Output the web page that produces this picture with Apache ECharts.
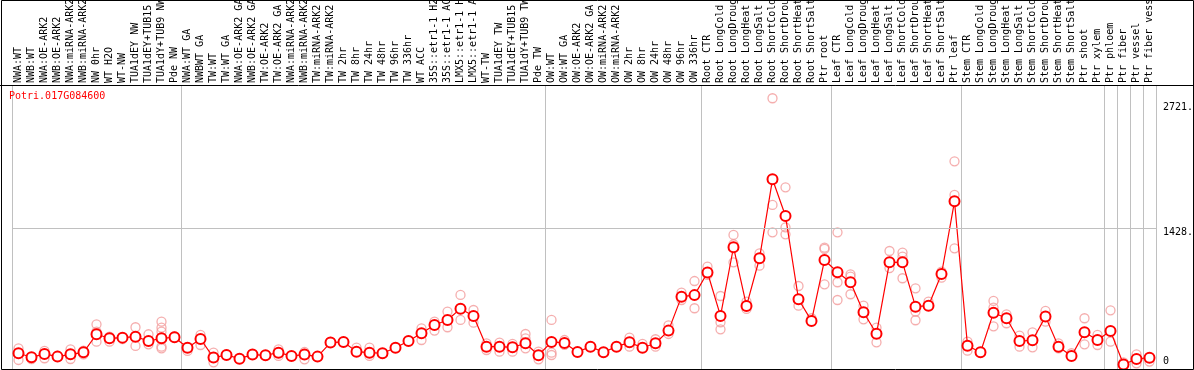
<!DOCTYPE html>
<html>
<head>
<meta charset="utf-8">
<script src="https://cdn.jsdelivr.net/npm/echarts@6/dist/echarts.min.js"></script>
<style>
html, body { margin: 0; padding: 0; background: #fff; }
#chart { width: 1194px; height: 370px; }
</style>
</head>
<body>
<div id="chart"></div>
<script>
const geneName = 'Potri.017G084600';

const categories = [
  'NWA:WT', 'NWB:WT', 'NWA:OE-ARK2', 'NWB:OE-ARK2', 'NWA:miRNA-ARK2', 'NWB:miRNA-ARK2',
  'NW 0hr', 'WT H2O', 'WT-NW', 'TUA1dEY NW', 'TUA1dEY+TUB15 NW', 'TUA1dY+TUB9 NW', 'Pde NW',
  'NWA:WT GA', 'NWBWT GA', 'TW:WT', 'TW:WT GA', 'NWA:OE-ARK2 GA', 'NWB:OE-ARK2 GA',
  'TW:OE-ARK2', 'TW:OE-ARK2 GA', 'NWA:miRNA-ARK2', 'NWB:miRNA-ARK2', 'TW:miRNA-ARK2', 'TW:miRNA-ARK2',
  'TW 2hr', 'TW 8hr', 'TW 24hr', 'TW 48hr', 'TW 96hr', 'TW 336hr', 'WT ACC',
  '35S::etr1-1 H2O', '35S::etr1-1 ACC', 'LMX5::etr1-1 H2O', 'LMX5::etr1-1 ACC',
  'WT-TW', 'TUA1dEY TW', 'TUA1dEY+TUB15 TW', 'TUA1dY+TUB9 TW', 'Pde TW',
  'OW:WT', 'OW:WT GA', 'OW:OE-ARK2', 'OW:OE-ARK2 GA', 'OW:miRNA-ARK2', 'OW:miRNA-ARK2',
  'OW 2hr', 'OW 8hr', 'OW 24hr', 'OW 48hr', 'OW 96hr', 'OW 336hr',
  'Root CTR', 'Root LongCold', 'Root LongDrought', 'Root LongHeat', 'Root LongSalt',
  'Root ShortCold', 'Root ShortDrought', 'Root ShortHeat', 'Root ShortSalt', 'Ptr root',
  'Leaf CTR', 'Leaf LongCold', 'Leaf LongDrought', 'Leaf LongHeat', 'Leaf LongSalt',
  'Leaf ShortCold', 'Leaf ShortDrought', 'Leaf ShortHeat', 'Leaf ShortSalt', 'Ptr leaf',
  'Stem CTR', 'Stem LongCold', 'Stem LongDrought', 'Stem LongHeat', 'Stem LongSalt',
  'Stem ShortCold', 'Stem ShortDrought', 'Stem ShortHeat', 'Stem ShortSalt', 'Ptr shoot',
  'Ptr xylem', 'Ptr phloem', 'Ptr fiber', 'Ptr vessel', 'Ptr fiber vessel'
];

// mean expression per sample
const meanValues = [
  122, 80, 115, 87, 111, 132, 320, 278, 285, 295, 250, 278, 289,
  180, 271, 77, 104, 66, 108, 101, 128, 94, 108, 87, 233, 240, 139, 128, 122, 180, 250,
  330, 417, 469, 587, 511, 191, 191, 184, 226, 101,
  240, 230, 135, 191, 132, 191, 236, 180, 226, 358, 712, 728,
  964, 511, 1227, 615, 1112, 1935, 1553, 685, 459, 1094,
  966, 862, 549, 326, 1070, 1070, 608, 618, 948, 1706,
  201, 132, 545, 487, 250, 257, 504, 191, 94, 340,
  260, 354, 5, 62, 76
];

// individual replicates
const replicateValues = [
  [174, 52], [62], [146, 70], [97], [163, 62], [149, 111], [424, 347, 243], [295, 243],
  [285, 270], [393, 198], [320, 215], [451, 389, 347, 191, 174], [300, 289],
  [146], [313, 208], [128, 28], [110], [66], [108], [101], [163, 94], [94], [135, 59], [87],
  [240], [240], [180], [180, 94], [122], [180], [250],
  [382, 260], [451, 358], [556, 393], [730, 469], [573, 441], [226, 156], [233, 139],
  [219, 139], [323, 278, 174], [139, 59],
  [469, 128, 104], [260, 210], [135], [191], [132], [191], [285, 191], [219], [268, 191],
  [413, 323], [753, 677], [875, 591],
  [1025, 938], [719, 445, 372], [1355, 1258, 1070], [660, 584], [1164, 1035],
  [2780, 1668, 1383], [1852, 1435, 1362], [823, 618], [487], [1223, 1209, 841],
  [1383, 862, 677], [945, 920, 737], [618, 476], [389, 236], [1188, 1010],
  [1171, 1129, 904], [799, 556, 466], [660], [973, 910], [2123, 1772, 1216],
  [243, 149], [132], [667, 598, 403], [528, 435], [306, 191], [340, 184], [563, 451],
  [226, 174], [122], [487, 215],
  [313, 208], [570, 243], [28], [111, 17], [35]
];

const yTickValues = [0, 1428, 2721];
const groupStarts = [0, 13, 41, 53, 63, 73, 84, 85, 86, 87];

const mono = 'DejaVu Sans Mono';
const repPoints = [];
replicateValues.forEach(function (vals, i) {
  vals.forEach(function (v) { repPoints.push([i, v]); });
});

const chart = echarts.init(document.getElementById('chart'));
chart.setOption({
  animation: false,
  backgroundColor: '#fff',
  title: {
    text: geneName,
    left: 9,
    top: 91,
    padding: 0,
    textStyle: { color: '#ff0000', fontFamily: mono, fontSize: 10, fontWeight: 'normal' }
  },
  grid: { left: 12, right: 38, top: 85, bottom: 1, outerBoundsMode: 'none', containLabel: false },
  xAxis: {
    type: 'category',
    data: categories,
    position: 'top',
    boundaryGap: true,
    axisLine: { show: false },
    axisTick: {
      show: true,
      length: 85,
      interval: function (i) { return groupStarts.indexOf(i) >= 0; },
      lineStyle: { color: '#c0c0c0', width: 1 }
    },
    axisLabel: {
      interval: 0,
      rotate: 90,
      margin: 2,
      fontFamily: mono,
      fontSize: 10,
      color: '#000'
    },
    splitLine: {
      show: true,
      interval: function (i) { return groupStarts.indexOf(i) >= 0; },
      lineStyle: { color: '#c0c0c0', width: 1 }
    }
  },
  yAxis: {
    type: 'value',
    position: 'right',
    min: -42,
    max: 2918,
    axisLine: { show: false },
    axisTick: { show: false },
    splitLine: { show: false },
    axisLabel: {
      customValues: yTickValues,
      margin: 7,
      align: 'left',
      formatter: function (v) { return v === 0 ? '{lo|0}' : '{hi|' + v + '.}'; },
      rich: {
        hi: { padding: [8, 0, 0, 0], fontFamily: mono, fontSize: 10, color: '#000' },
        lo: { padding: [0, 0, 7, 0], fontFamily: mono, fontSize: 10, color: '#000' }
      }
    }
  },
  series: [
    {
      type: 'scatter',
      data: repPoints,
      symbol: 'circle',
      symbolSize: 9,
      itemStyle: { color: 'rgba(255,255,255,0)', borderColor: '#f29a9a', borderWidth: 1.3 },
      z: 2,
      markLine: {
        silent: true,
        symbol: ['none', 'none'],
        label: { show: false },
        lineStyle: { color: '#c0c0c0', width: 1, type: 'solid' },
        data: [{ yAxis: yTickValues[1] }]
      }
    },
    {
      type: 'line',
      data: meanValues,
      symbol: 'emptyCircle',
      symbolSize: 10,
      lineStyle: { color: '#ff0000', width: 1.2 },
      itemStyle: { color: '#ff0000', borderWidth: 1.6 },
      z: 3
    }
  ],
  graphic: [
    { type: 'rect', silent: true, z: 100, shape: { x: 1.5, y: 0.5, width: 1192, height: 369 },
      style: { fill: 'none', stroke: '#000', lineWidth: 1 } },
    { type: 'line', silent: true, z: 100, shape: { x1: 0, y1: 85.5, x2: 1194, y2: 85.5 },
      style: { stroke: '#000', lineWidth: 1 } }
  ]
});
window.addEventListener('resize', function () { chart.resize(); });
</script>
</body>
</html>
